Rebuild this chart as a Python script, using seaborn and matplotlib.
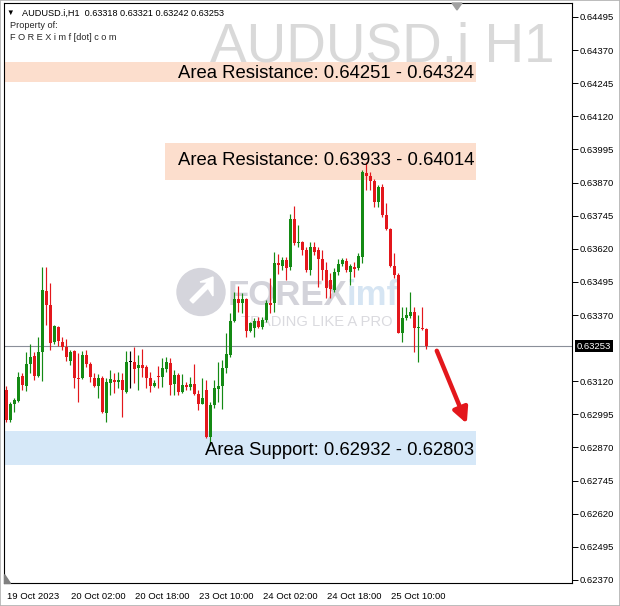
import numpy as np
import pandas as pd
import matplotlib
matplotlib.use("Agg")
import matplotlib.pyplot as plt
import matplotlib.transforms as mtransforms
from matplotlib.patches import Circle, Polygon, Rectangle
import seaborn as sns

# ---------------- data (AUDUSD.i H1) ----------------
opens = [0.63087,0.62974,0.63034,0.63045,0.63140,0.63102,0.63185,0.63215,0.63140,0.63230,
         0.63461,0.63408,0.63268,0.63325,0.63268,0.63249,0.63197,0.63234,0.63132,0.63132,
         0.63219,0.63185,0.63132,0.63102,0.63132,0.63000,0.63113,0.63125,0.63117,0.63125,
         0.63079,0.63193,0.63193,0.63170,0.63181,0.63174,0.63132,0.63102,0.63140,0.63136,
         0.63166,0.63189,0.63110,0.63144,0.63079,0.63106,0.63098,0.63110,0.63072,0.63034,
         0.63087,0.62910,0.63030,0.63091,0.63102,0.63170,0.63219,0.63347,0.63430,0.63415,
         0.63430,0.63310,0.63321,0.63347,0.63325,0.63351,0.63415,0.63415,0.63566,0.63555,
         0.63578,0.63551,0.63732,0.63642,0.63646,0.63615,0.63540,0.63627,0.63615,0.63581,
         0.63540,0.63502,0.63464,0.63532,0.63562,0.63574,0.63532,0.63551,0.63547,0.63589,
         0.63906,0.63895,0.63876,0.63796,0.63853,0.63747,0.63695,0.63555,0.63521,0.63302,
         0.63359,0.63366,0.63381,0.63321,0.63321,0.63318]
highs = [0.63102,0.63042,0.63057,0.63155,0.63151,0.63230,0.63261,0.63230,0.63287,0.63551,
         0.63551,0.63491,0.63332,0.63329,0.63287,0.63280,0.63238,0.63238,0.63227,0.63234,
         0.63238,0.63193,0.63151,0.63147,0.63140,0.63132,0.63162,0.63151,0.63155,0.63151,
         0.63234,0.63234,0.63249,0.63219,0.63242,0.63181,0.63155,0.63125,0.63178,0.63208,
         0.63212,0.63208,0.63162,0.63151,0.63147,0.63117,0.63136,0.63185,0.63087,0.63132,
         0.63125,0.63042,0.63125,0.63193,0.63200,0.63302,0.63378,0.63457,0.63479,0.63453,
         0.63434,0.63344,0.63359,0.63362,0.63362,0.63427,0.63510,0.63608,0.63600,0.63589,
         0.63589,0.63751,0.63781,0.63710,0.63649,0.63627,0.63646,0.63646,0.63627,0.63615,
         0.63570,0.63529,0.63547,0.63581,0.63585,0.63585,0.63562,0.63570,0.63604,0.63917,
         0.63947,0.63910,0.63883,0.63861,0.63864,0.63793,0.63698,0.63604,0.63529,0.63400,
         0.63400,0.63457,0.63400,0.63370,0.63400,0.63321]
lows = [0.62966,0.62966,0.63004,0.63042,0.63087,0.63083,0.63151,0.63125,0.63136,0.63121,
        0.63332,0.63238,0.63261,0.63253,0.63238,0.63197,0.63181,0.63095,0.63042,0.63129,
        0.63174,0.63117,0.63098,0.63057,0.63000,0.62966,0.63068,0.63076,0.63095,0.62985,
        0.63076,0.63095,0.63113,0.63087,0.63136,0.63095,0.63079,0.63098,0.63095,0.63098,
        0.63155,0.63068,0.63068,0.63068,0.63076,0.63087,0.63087,0.63068,0.63011,0.63034,
        0.62906,0.62879,0.63019,0.63042,0.63015,0.63151,0.63212,0.63344,0.63381,0.63378,
        0.63287,0.63306,0.63287,0.63321,0.63317,0.63344,0.63378,0.63381,0.63525,0.63540,
        0.63502,0.63540,0.63634,0.63627,0.63597,0.63532,0.63521,0.63597,0.63476,0.63502,
        0.63434,0.63434,0.63457,0.63521,0.63555,0.63532,0.63483,0.63513,0.63540,0.63566,
        0.63842,0.63842,0.63778,0.63778,0.63740,0.63691,0.63551,0.63510,0.63302,0.63268,
        0.63351,0.63359,0.63230,0.63193,0.63313,0.63242]
closes = [0.62974,0.63034,0.63049,0.63136,0.63106,0.63185,0.63212,0.63140,0.63230,0.63464,
          0.63408,0.63264,0.63329,0.63272,0.63249,0.63212,0.63230,0.63132,0.63129,0.63219,
          0.63185,0.63136,0.63102,0.63132,0.63004,0.63117,0.63129,0.63117,0.63125,0.63087,
          0.63193,0.63193,0.63166,0.63181,0.63170,0.63132,0.63102,0.63113,0.63136,0.63170,
          0.63193,0.63106,0.63144,0.63079,0.63106,0.63098,0.63110,0.63072,0.63034,0.63057,
          0.62910,0.63030,0.63095,0.63102,0.63170,0.63223,0.63347,0.63430,0.63415,0.63430,
          0.63310,0.63340,0.63347,0.63325,0.63351,0.63415,0.63408,0.63566,0.63559,0.63578,
          0.63547,0.63732,0.63642,0.63646,0.63615,0.63540,0.63627,0.63608,0.63581,0.63540,
          0.63472,0.63468,0.63532,0.63562,0.63578,0.63540,0.63555,0.63544,0.63593,0.63910,
          0.63895,0.63876,0.63796,0.63853,0.63747,0.63695,0.63555,0.63521,0.63302,0.63359,
          0.63370,0.63381,0.63321,0.63325,0.63317,0.63253]

time_tick_bars = [0, 16, 32, 48, 64, 80, 96]
time_tick_labels = ["19 Oct 2023", "20 Oct 02:00", "20 Oct 18:00", "23 Oct 10:00",
                    "24 Oct 02:00", "24 Oct 18:00", "25 Oct 10:00"]
price_ticks = [0.62370, 0.62495, 0.62620, 0.62745, 0.62870, 0.62995, 0.63120,
               0.63370, 0.63495, 0.63620, 0.63745, 0.63870, 0.63995, 0.64120,
               0.64245, 0.64370, 0.64495]
current_price = 0.63253

zone_labels = ["Area Resistance: 0.64251 - 0.64324",
               "Area Resistance: 0.63933 - 0.64014",
               "Area Support: 0.62932 - 0.62803"]
zone_low = [0.64251, 0.63878, 0.62803]
zone_high = [0.64324, 0.64019, 0.62932]
zone_colors = ["#fcdecd", "#fcdecd", "#d6e8f8"]

header = "AUDUSD.i,H1  0.63318 0.63321 0.63242 0.63253"

# ---------------- style ----------------
sns.set_style("white")
plt.rcParams["font.family"] = ["Liberation Sans", "DejaVu Sans"]

W, H = 620, 606
fig = plt.figure(figsize=(W / 100, H / 100), dpi=100)
fig.patch.set_facecolor("white")


def fx(x):
    return x / W


def fy(y):
    return 1 - y / H


ax_l, ax_r, ax_t, ax_b = 3.5, 572, 3, 583
ax = fig.add_axes([fx(ax_l), fy(ax_b), (ax_r - ax_l) / W, (ax_b - ax_t) / H])
ax.set_facecolor("white")

GREEN = "#148a14"
RED = "#e3171c"

df = pd.DataFrame({"open": opens, "high": highs, "low": lows, "close": closes})
df["bar"] = np.arange(len(df))
col = np.where(df.close > df.open, GREEN, np.where(df.close < df.open, RED, "black"))
bottom = np.minimum(df.open, df.close)
height = np.maximum((df.close - df.open).abs(), 0.00004)

ax.set_xlim(-0.625, 141.5)
ax.set_ylim(0.623586, 0.645475)

# zones
for lo, hi, c, xmin in zip(zone_low, zone_high, zone_colors, [0.0, 0.284, 0.0]):
    ax.axhspan(lo, hi, xmin=xmin, xmax=0.831, color=c, lw=0, zorder=1)

# watermark logo (behind candles)
tf = fig.transFigure
circ = Circle((fx(201), fy(292)), radius=24 / W, transform=tf, color="#d5d5dc", zorder=1.5)
ax.add_artist(circ)
ax.add_artist(Polygon([(fx(190), fy(300)), (fx(208), fy(282)), (fx(200), fy(282)),
                       (fx(213), fy(277)), (fx(213), fy(296)), (fx(208), fy(288)),
                       (fx(193), fy(303))], closed=True, transform=tf,
                      color="white", zorder=1.6))
ax.text(fx(228), fy(295), "FOREX", transform=tf, fontsize=25, fontweight="bold",
        color="#d3d3da", ha="left", va="center", zorder=1.6)
ax.text(fx(347), fy(295), "imf", transform=tf, fontsize=25, fontweight="bold",
        color="#d6e5f3", ha="left", va="center", zorder=1.6)
ax.text(fx(241), fy(322), "TRADING LIKE A PRO", transform=tf, fontsize=10.6,
        color="#dadadf", ha="left", va="center", zorder=1.6)

# current price line
ax.axhline(current_price, color="#8a8f99", lw=0.8, zorder=2)

# candles
ax.vlines(df.bar, df.low, df.high, colors=col, lw=0.85, zorder=3)
ax.bar(df.bar, height, bottom=bottom, width=0.75, color=col, lw=0, zorder=4)

# zone texts
for lab, lo, hi, dy in zip(zone_labels, zone_low, zone_high, [-0.00007, 0.00004, -0.00007]):
    ax.text(117, (lo + hi) / 2 + dy, lab, ha="right", va="center", fontsize=13.3,
            color="black", zorder=5)

# arrow
ax.annotate("", xy=(115.2, 0.62960), xytext=(107.7, 0.63235),
            arrowprops=dict(arrowstyle="-|>,head_length=0.9,head_width=0.45",
                            color="#e3171c", lw=3.2, shrinkA=0, shrinkB=0), zorder=6)

# axes / ticks
for s in ax.spines.values():
    s.set_color("black")
    s.set_linewidth(0.8)
ax.yaxis.tick_right()
ax.set_yticks(price_ticks)
ax.set_yticklabels([f"{p:.5f}" for p in price_ticks])
ax.tick_params(axis="y", direction="out", length=4, width=0.7, pad=1.5,
               labelsize=6.8, colors="black")
ax.set_xticks([b - 0.35 for b in time_tick_bars])
ax.set_xticklabels(time_tick_labels, ha="left")
ax.tick_params(axis="x", direction="out", length=5, width=0.7, pad=1.5,
               labelsize=6.8, colors="black")
offset = mtransforms.ScaledTranslation(2 / 100, 0, fig.dpi_scale_trans)
for t in ax.get_xticklabels():
    t.set_transform(t.get_transform() + offset)

# current price tag
ax.annotate(f"{current_price:.5f}", xy=(1, current_price), xycoords=("axes fraction", "data"),
            xytext=(5, 0), textcoords="offset pixels", ha="left", va="center",
            fontsize=6.8, color="white",
            bbox=dict(boxstyle="square,pad=0.18", fc="black", ec="none"),
            annotation_clip=False)

# header texts
fig.text(fx(6), fy(13), "\u25BC", fontsize=5.5, ha="left", va="center", color="black")
fig.text(fx(22), fy(13), header, fontsize=6.6, ha="left", va="center", color="black")
fig.text(fx(10), fy(25.5), "Property of:", fontsize=6.6, ha="left", va="center")
fig.text(fx(10), fy(38), "F O R E X i m f [dot] c o m", fontsize=6.6, ha="left", va="center")

# big symbol watermark
fig.text(fx(555), fy(61.5), "AUDUSD.i H1", fontsize=39.5, color="#d9d9d9",
         ha="right", va="baseline")

# chart shift markers
fig.patches.append(Polygon([(fx(452), fy(3)), (fx(462), fy(3)), (fx(457), fy(10))],
                           closed=True, transform=tf, color="#a0a0a0"))
fig.patches.append(Polygon([(fx(4), fy(574)), (fx(4), fy(583)), (fx(10), fy(583))],
                           closed=True, transform=tf, color="#808080"))

# outer border
fig.patches.append(Rectangle((0, 0), 1, 1, transform=tf, fill=False,
                             ec="#b0b0b0", lw=1.2))

fig.savefig("out.png", dpi=100)
